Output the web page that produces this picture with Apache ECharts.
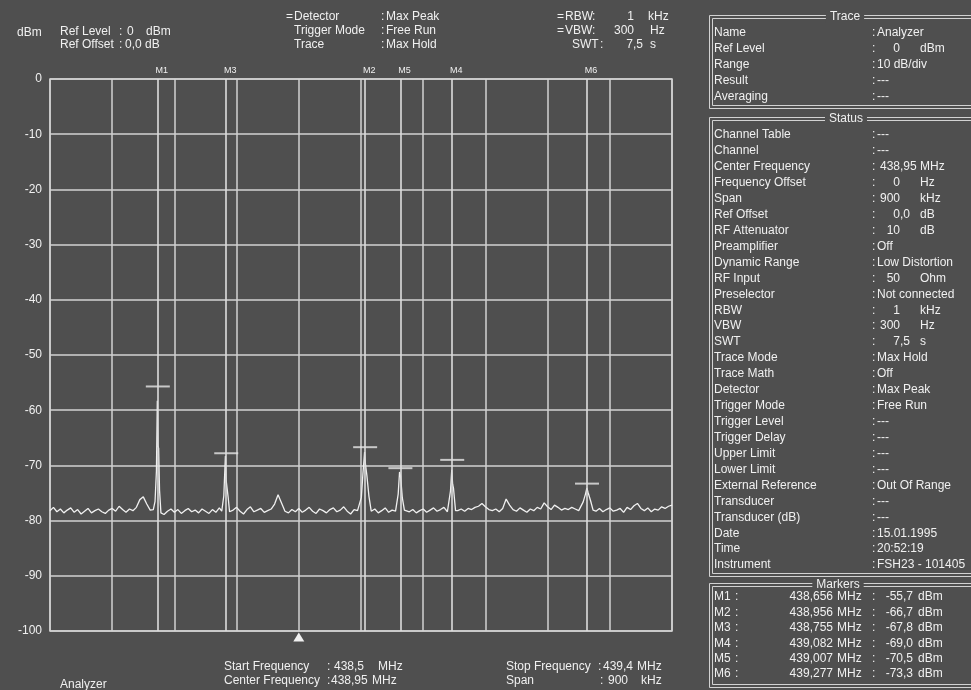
<!DOCTYPE html>
<html>
<head>
<meta charset="utf-8">
<script src="https://cdn.jsdelivr.net/npm/echarts@6/dist/echarts.min.js"></script>
<style>
  html, body { margin: 0; padding: 0; background: #4f4f4f; }
  #chart { width: 971px; height: 690px; }
</style>
</head>
<body>
<div id="chart"></div>
<script>
// Sweep settings (MHz)
const startMHz = 438.5;
const stopMHz = 439.4;
const stepMHz = 0.005;
const refArrowMHz = 438.86;

// Max-hold noise floor, one reading every 5 kHz from 438.500 to 439.400 MHz (dBm)
const noiseFloor = [
  -78.2, -77.6, -78.4, -77.9, -78.6, -78.1, -77.7, -78.5, -78.0, -78.8,
  -78.3, -77.8, -78.6, -78.2, -77.9, -78.4, -78.7, -78.1, -77.8, -78.3,
  -77.4, -78.0, -78.5, -77.9, -78.2, -77.6, -76.2, -75.7, -77.0, -78.1,
  -78.4, -78.6, -78.2, -78.9, -78.3, -77.9, -78.5, -78.0, -78.7, -78.2,
  -77.8, -78.4, -78.1, -78.6, -77.9, -78.3, -78.7, -78.0, -78.5, -77.7,
  -78.2, -78.0, -78.6, -78.1, -77.6, -78.3, -78.8, -78.0, -77.5, -78.4,
  -78.1, -77.8, -78.5, -78.2, -77.9, -77.0, -75.3, -76.8, -78.3, -78.6,
  -78.0, -78.4, -77.8, -78.5, -78.1, -77.6, -78.3, -78.7, -77.9, -78.2,
  -78.6, -78.0, -77.7, -78.4, -78.1, -77.5, -78.3, -78.8, -78.0, -78.2,
  -78.0, -78.3, -78.1, -78.4, -77.9, -78.6, -78.2, -77.7, -78.5, -78.1,
  -78.3, -78.0, -78.2, -77.8, -78.4, -78.0, -78.6, -78.2, -77.9, -78.5,
  -78.1, -77.7, -78.3, -78.0, -77.6, -78.4, -78.0, -78.2, -78.2, -77.9,
  -78.3, -77.8, -78.0, -77.6, -77.4, -76.9, -77.5, -78.0, -78.2, -77.9,
  -78.4, -77.8, -76.1, -77.2, -78.0, -78.3, -77.7, -78.1, -78.5, -77.9,
  -78.2, -77.6, -77.9, -76.8, -77.5, -78.0, -77.2, -77.6, -78.1, -77.8,
  -78.0, -77.6, -77.9, -78.2, -78.0, -78.1, -78.0, -78.2, -78.3, -77.8,
  -78.4, -78.0, -77.7, -78.3, -78.1, -77.8, -78.5, -77.6, -78.0, -77.3,
  -76.9, -77.8, -78.2, -77.7, -78.4, -77.9, -78.1, -77.5, -77.8, -77.4,
  -77.2
];

// Carrier shapes [MHz, dBm]
const peakM1 = [[438.6495, -78.0], [438.652, -76.5], [438.654, -71.0], [438.6553, -58.3], [438.6562, -66.4], [438.6572, -66.9], [438.6585, -74.5], [438.6605, -78.6]];
const peakM3 = [[438.7485, -78.3], [438.7515, -75.5], [438.7538, -68.3], [438.7548, -72.6], [438.7562, -72.9], [438.7578, -75.8], [438.7598, -78.4]];
const peakM2 = [[438.9475, -78.2], [438.9505, -75.8], [438.9528, -71.5], [438.9552, -67.6], [438.9565, -69.8], [438.9585, -71.8], [438.9615, -75.6], [438.9648, -78.3]];
const peakM5 = [[439.0012, -78.4], [439.0038, -75.2], [439.0058, -71.2], [439.0072, -71.9], [439.0098, -75.9], [439.0128, -78.1]];
const peakM4 = [[439.0768, -78.3], [439.0795, -74.6], [439.0813, -70.8], [439.0826, -73.4], [439.0838, -74.1], [439.0868, -78.2]];
const peakM6 = [[439.2678, -78.2], [439.2715, -76.6], [439.2748, -75.2], [439.2768, -74.1], [439.2788, -75.0], [439.2822, -76.4], [439.2858, -78.1]];

// Markers
const markerNames = ['M1', 'M2', 'M3', 'M4', 'M5', 'M6'];
const markerFreqs = [438.656, 438.956, 438.755, 439.082, 439.007, 439.277];
const markerLevels = [-55.7, -66.7, -67.8, -69.0, -70.5, -73.3];

// Info panel rows: [label, value, unit]
const traceRows = [
  ['Name', 'Analyzer', ''],
  ['Ref Level', '0', 'dBm'],
  ['Range', '10 dB/div', ''],
  ['Result', '---', ''],
  ['Averaging', '---', '']
];
const statusRows = [
  ['Channel Table', '---', ''],
  ['Channel', '---', ''],
  ['Center Frequency', '438,95', 'MHz'],
  ['Frequency Offset', '0', 'Hz'],
  ['Span', '900', 'kHz'],
  ['Ref Offset', '0,0', 'dB'],
  ['RF Attenuator', '10', 'dB'],
  ['Preamplifier', 'Off', ''],
  ['Dynamic Range', 'Low Distortion', ''],
  ['RF Input', '50', 'Ohm'],
  ['Preselector', 'Not connected', ''],
  ['RBW', '1', 'kHz'],
  ['VBW', '300', 'Hz'],
  ['SWT', '7,5', 's'],
  ['Trace Mode', 'Max Hold', ''],
  ['Trace Math', 'Off', ''],
  ['Detector', 'Max Peak', ''],
  ['Trigger Mode', 'Free Run', ''],
  ['Trigger Level', '---', ''],
  ['Trigger Delay', '---', ''],
  ['Upper Limit', '---', ''],
  ['Lower Limit', '---', ''],
  ['External Reference', 'Out Of Range', ''],
  ['Transducer', '---', ''],
  ['Transducer (dB)', '---', ''],
  ['Date', '15.01.1995', ''],
  ['Time', '20:52:19', ''],
  ['Instrument', 'FSH23 - 101405', '']
];

// ---- build trace: noise floor with carriers spliced in ----
const peaks = [peakM1, peakM3, peakM2, peakM5, peakM4, peakM6];
const toKHz = f => (f - startMHz) * 1000;
const tracePts = [];
noiseFloor.forEach((v, i) => {
  const f = startMHz + i * stepMHz;
  const inside = peaks.some(p => f >= p[0][0] && f <= p[p.length - 1][0]);
  if (!inside) tracePts.push([f, v]);
});
peaks.forEach(p => p.forEach(pt => tracePts.push(pt)));
tracePts.sort((a, b) => a[0] - b[0]);
const traceData = tracePts.map(p => [toKHz(p[0]), p[1]]);

// ---- texts ----
const BG = '#4f4f4f';
const FG = '#f0f0f0';
const LINE = '#d2d2d2';
const FONT = '"Liberation Sans", Arial, sans-serif';
const g = [];
function txt(x, y, s, align, size) {
  g.push({
    type: 'text', x: x, y: y, silent: true,
    style: {
      text: s, fill: FG, font: (size || 12) + 'px ' + FONT,
      textAlign: align || 'left', textVerticalAlign: 'middle'
    }
  });
}
function numUnit(xDec, xUnit, y, value, unit) {
  const parts = value.split(',');
  txt(xDec, y, parts[0], 'right');
  if (parts.length > 1) txt(xDec, y, ',' + parts[1], 'left');
  if (unit) txt(xUnit, y, unit, 'left');
}
function panelRow(y, row) {
  txt(714, y, row[0]);
  txt(872, y, ':', 'left');
  if (row[2]) numUnit(900, 920, y, row[1], row[2]);
  else txt(877, y, row[1]);
}
function box(top, bottom, title, cx) {
  g.push({ type: 'rect', silent: true, shape: { x: 709.5, y: top + 0.5, width: 300, height: bottom - top },
    style: { fill: 'none', stroke: LINE, lineWidth: 1 } });
  g.push({ type: 'rect', silent: true, shape: { x: 712.5, y: top + 3.5, width: 300, height: bottom - top - 6 },
    style: { fill: 'none', stroke: LINE, lineWidth: 1 } });
  g.push({ type: 'text', x: cx, y: top + 2, silent: true, z: 10,
    style: { text: title, fill: FG, font: '12px ' + FONT, textAlign: 'center', textVerticalAlign: 'middle',
      backgroundColor: BG, padding: [0, 4] } });
}

// header
txt(17, 33, 'dBm');
txt(60, 32, 'Ref Level'); txt(119, 32, ':'); txt(127, 32, '0'); txt(146, 32, 'dBm');
txt(60, 45, 'Ref Offset'); txt(119, 45, ':'); txt(125, 45, '0,0'); txt(145, 45, 'dB');
txt(286, 17, '='); txt(294, 17, 'Detector'); txt(381, 17, ':'); txt(386, 17, 'Max Peak');
txt(294, 31, 'Trigger Mode'); txt(381, 31, ':'); txt(386, 31, 'Free Run');
txt(294, 45, 'Trace'); txt(381, 45, ':'); txt(386, 45, 'Max Hold');
txt(557, 17, '='); txt(565, 17, 'RBW'); txt(592, 17, ':'); txt(634, 17, '1', 'right'); txt(648, 17, 'kHz');
txt(557, 31, '='); txt(565, 31, 'VBW'); txt(592, 31, ':'); txt(634, 31, '300', 'right'); txt(650, 31, 'Hz');
txt(572, 45, 'SWT'); txt(600, 45, ':'); numUnit(633, 650, 45, '7,5', 's');

// footer
txt(60, 685, 'Analyzer');
txt(224, 667, 'Start Frequency'); txt(327, 667, ':'); txt(334, 667, (startMHz).toFixed(1).replace('.', ',')); txt(378, 667, 'MHz');
txt(224, 681, 'Center Frequency'); txt(327, 681, ':'); txt(331, 681, ((startMHz + stopMHz) / 2).toFixed(2).replace('.', ',')); txt(372, 681, 'MHz');
txt(506, 667, 'Stop Frequency'); txt(598, 667, ':'); txt(603, 667, (stopMHz).toFixed(1).replace('.', ',')); txt(637, 667, 'MHz');
txt(506, 681, 'Span'); txt(600, 681, ':'); txt(628, 681, String(Math.round((stopMHz - startMHz) * 1000)), 'right'); txt(641, 681, 'kHz');

// info panel
box(15, 108, 'Trace', 845);
traceRows.forEach((r, i) => panelRow(33 + i * 16, r));
box(117, 576, 'Status', 846);
statusRows.forEach((r, i) => panelRow(135 + i * 15.93, r));
box(583, 687, 'Markers', 838);
markerNames.forEach((n, i) => {
  const y = 597 + i * 15.4;
  txt(714, y, n); txt(735, y, ':');
  txt(833, y, markerFreqs[i].toFixed(3).replace('.', ','), 'right'); txt(837, y, 'MHz');
  txt(872, y, ':');
  txt(913, y, markerLevels[i].toFixed(1).replace('.', ','), 'right'); txt(918, y, 'dBm');
});

// ---- chart ----
const chart = echarts.init(document.getElementById('chart'), null, { renderer: 'canvas' });
const gridLine = { show: true, lineStyle: { color: LINE, width: 1.5, type: 'solid' } };
chart.setOption({
  backgroundColor: BG,
  animation: false,
  grid: { left: 50, top: 79, width: 622, height: 552, show: true, borderColor: LINE, borderWidth: 1.5, backgroundColor: 'transparent' },
  xAxis: {
    type: 'value', min: 0, max: Math.round((stopMHz - startMHz) * 1000), interval: 90,
    axisLine: { show: false }, axisTick: { show: false }, axisLabel: { show: false },
    splitLine: gridLine
  },
  yAxis: {
    type: 'value', min: -100, max: 0, interval: 10,
    axisLine: { show: false }, axisTick: { show: false },
    axisLabel: { color: FG, fontSize: 12, fontFamily: FONT, margin: 8 },
    splitLine: gridLine
  },
  series: [
    {
      type: 'line', data: traceData, showSymbol: false, symbol: 'none', silent: true,
      lineStyle: { color: '#f0f0f0', width: 1.3 },
      z: 3,
      markLine: {
        silent: true, symbol: ['none', 'none'],
        lineStyle: { color: '#dcdcdc', width: 1.6, type: 'solid' },
        label: { show: true, position: 'end', color: FG, fontSize: 9, fontFamily: FONT, formatter: p => p.name, offset: [4, 1] },
        data: markerFreqs.map((f, i) => ({ name: markerNames[i], xAxis: toKHz(f) }))
      },
      markPoint: {
        silent: true,
        data: [{ coord: [toKHz(refArrowMHz), -100], symbol: 'triangle', symbolSize: [11, 9], symbolOffset: [0, 6],
          itemStyle: { color: '#f0f0f0' }, label: { show: false } }]
      }
    },
    {
      type: 'scatter', silent: true, symbol: 'rect', symbolSize: [24, 2], z: 4,
      itemStyle: { color: '#e6e6e6' },
      data: markerFreqs.map((f, i) => [toKHz(f), markerLevels[i]])
    }
  ],
  graphic: g
});
</script>
</body>
</html>
